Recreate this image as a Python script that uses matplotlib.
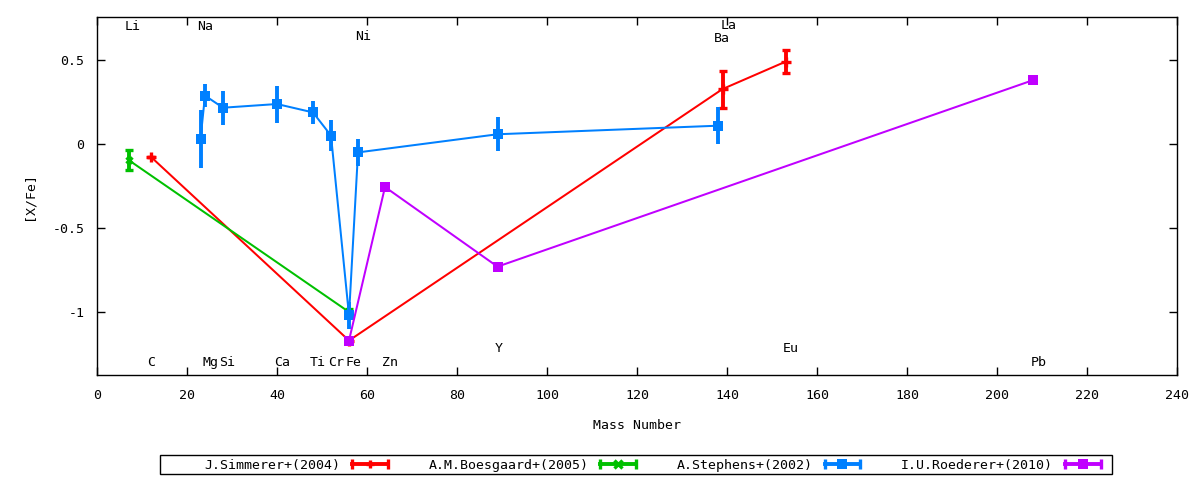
import matplotlib
matplotlib.use("Agg")
import matplotlib.pyplot as plt
from matplotlib.lines import Line2D
from matplotlib.patches import Rectangle
from matplotlib.legend_handler import HandlerLine2D, HandlerTuple

plt.rcParams['font.family'] = ['DejaVu Sans Mono', 'DejaVu Sans']
FS = 9.5

# ---- data ----
sim_mass = [12, 56, 139, 153]
sim_val = [-0.077, -1.17, 0.327, 0.49]
sim_err = [0.0, 0.0, 0.11, 0.07]

boe_mass = [7, 56]
boe_val = [-0.095, -1.0]
boe_err = [0.06, 0.02]

ste_mass = [23, 24, 28, 40, 48, 52, 56, 58, 89, 138]
ste_val = [0.03, 0.288, 0.216, 0.238, 0.188, 0.05, -1.02, -0.05, 0.058, 0.109]
ste_err = [0.17, 0.07, 0.1, 0.11, 0.07, 0.09, 0.08, 0.08, 0.1, 0.11]

roe_mass = [56, 64, 89, 208]
roe_val = [-1.17, -0.256, -0.73, 0.38]

labels = ["J.Simmerer+(2004)", "A.M.Boesgaard+(2005)", "A.Stephens+(2002)", "I.U.Roederer+(2010)"]

elements = ["Li", "C", "Na", "Mg", "Si", "Ca", "Ti", "Cr", "Fe", "Ni", "Zn", "Y", "Ba", "La", "Eu", "Pb"]
elem_x = [8.0, 12.0, 24.0, 25.2, 28.9, 41.1, 49.1, 53.1, 57.1, 59.1, 65.1, 89.3, 138.9, 140.3, 154.2, 209.3]
elem_y = [0.70, -1.30, 0.70, -1.30, -1.30, -1.30, -1.30, -1.30, -1.30, 0.64, -1.30, -1.22, 0.628, 0.708, -1.22, -1.30]

xticks = list(range(0, 241, 20))
yticks = [-1, -0.5, 0, 0.5]
ytick_labels = ["-1", "-0.5", "0", "0.5"]

colors = ["#ff0000", "#00c000", "#0080ff", "#c000ff"]

fig = plt.figure(figsize=(12, 4.8), dpi=100)
ax = fig.add_axes([97/1200, 1-375/480, 1080/1200, 358/480])

LW = 1.45
ELW = 2.8
CAP = 3.0
CT = 2.4

ax.errorbar(sim_mass, sim_val, yerr=sim_err, color=colors[0], lw=LW, elinewidth=ELW,
            capsize=CAP, capthick=CT, marker='+', ms=6.5, mew=2.4, zorder=2)
ax.errorbar(boe_mass, boe_val, yerr=boe_err, color=colors[1], lw=LW, elinewidth=ELW,
            capsize=CAP, capthick=CT, marker='x', ms=5, mew=2.4, zorder=3)
ax.errorbar(ste_mass, ste_val, yerr=ste_err, color=colors[2], lw=LW, elinewidth=ELW,
            capsize=CAP, capthick=CT, marker='s', ms=6.5, mew=0, zorder=4)
ax.plot(roe_mass, roe_val, color=colors[3], lw=LW, marker='s', ms=7, mew=0, zorder=6)

for name, x, y in zip(elements, elem_x, elem_y):
    ax.text(x, y, name, ha='center', va='center', fontsize=FS, color='black')

ax.set_xlim(0, 240)
ax.set_ylim(-1.375, 0.756)
ax.set_xticks(xticks)
ax.set_xticklabels([str(t) for t in xticks], fontsize=FS)
ax.set_yticks(yticks)
ax.set_yticklabels(ytick_labels, fontsize=FS)
ax.tick_params(direction='in', length=6, width=1, top=True, right=True)
ax.tick_params(axis='x', pad=10)
ax.tick_params(axis='y', pad=9)
for s in ax.spines.values():
    s.set_linewidth(1)
ax.set_xlabel("Mass Number", fontsize=FS, labelpad=12)
ax.set_ylabel("[X/Fe]", fontsize=FS, labelpad=12)

# legend (gnuplot-like samples)
markers = ['+', 'x', 's', 's']
handles = []
hmap = {}
for c, m in zip(colors, markers):
    cap = Line2D([], [], color=c, lw=2.8, marker='|', ms=7, mew=2.4)
    mid = Line2D([], [], color=c, ls='none', marker=m, ms=6 if m != 's' else 6.5,
                 mew=2.4 if m != 's' else 0)
    hmap[cap] = HandlerLine2D(numpoints=2)
    hmap[mid] = HandlerLine2D(numpoints=1)
    handles.append((cap, mid))

leg = fig.legend(handles, labels, handler_map={**hmap, tuple: HandlerTuple(ndivide=1)},
                 loc='center left', bbox_to_anchor=(204/1200, 1-465/480), ncol=4,
                 frameon=False, markerfirst=False, fontsize=FS, handlelength=3.3,
                 handletextpad=0.6, columnspacing=2.8, borderpad=0, borderaxespad=0)
fig.patches.append(Rectangle((160/1200, 1-474/480), 952/1200, 19/480, transform=fig.transFigure,
                             fill=False, edgecolor='black', lw=1))

fig.savefig("out.png", dpi=100)
